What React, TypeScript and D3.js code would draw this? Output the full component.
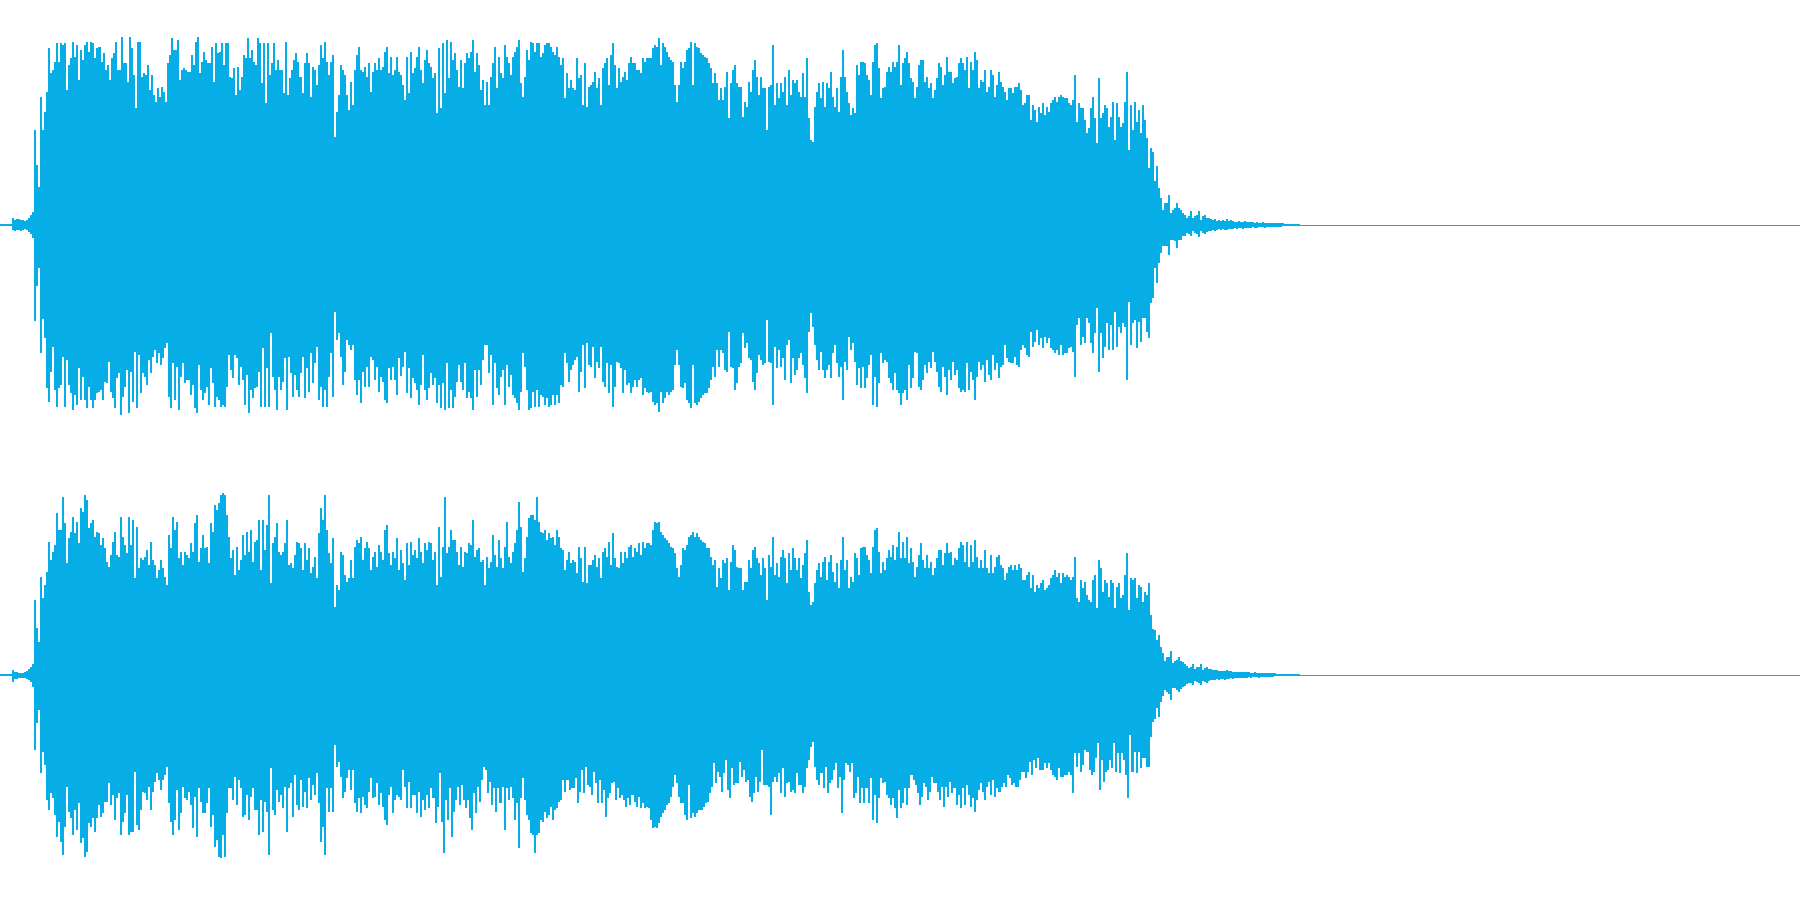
import React from "react";
import * as d3 from "d3";

const WIDTH = 1800;
const HEIGHT = 900;
const WAVE_COLOR = "#07aee6";

// Peak amplitudes, one value per two samples of the time axis.
const topUpEarly = [1,1,1,1,1,1,7,5,6,6,5,5,4,5,7,10,13,95,60,38,128,95,113,133,
177,152,155,163,182,163,182,180,182,135,160,167,183,168,180,145,175,165,180,183,173,183,182,167,177,178,163,172,155,160,145,167,172,183,155,155,188,162,162,143,188,177,150,117,183,183,148,152,150,160,135,150,130,123,137,128,138,133,123,162,170,187,175,175,185,145,155,157,155,153,153,170,160,183,188,152,163,173,165,162,162,178,143,182,172,173,182,160,182,182,148,147,157,130,158,135,148,170,167,187,167,175,163,160,187,182,142,182,122,182,150,162,182,155,165,155,155,132,183,130,147,155,165,172,163,148,132,162,172,162,128,158,155,140,160,180,167,183,163,150,163,170,88,113,130,160,155,150,130,115,143,120,155,170,178,155,153,158,148,162,133,153,162,155,167,155,158,173,178,152,168,150,155,168,153];
const topUpMiddle = [150,140,125,168,132,173,152,157,168,178,155,142,165,175,162,158,147,152,112,177,117,182,132,185,147,183,165,172,155,138,165,137,162,172,167,173,185,153,172,160,135,145,120,143,120,148,162,178,137,168,152,147,180,168,162,150,168,173,178,185,142,128,148,175,165,183,182,173,182,182,168,172,180,182,182,178,173,170,178,168,160,167,127,152,137,145,137,135,167,147,150,120,162,118,138,140,143,153,137,147,120,157,162,167,140,170,182,160,137,157,143,148,153,145,162,168,162,162,155,155,152,167,163,167,167,167,177,180,178,187,160,182,178,173,168,165,163,140,123,140,163,157,163,175,177,183,140,182,178,177,172,170,168,167,162,157,142,152,142,125,137,125,138,153,107,142,155,160,142,138,138,108,123,118,143,133,155,165,148,130,148,137,137,95,138,140,180,120,142,127,142,133,148,120,155,130,145,142,145,133];
const topUpLate = [128,152,128,167,107,85,83,118,133,142,127,143,118,142,137,153,128,118,137,113,148,175,148,133,122,110,117,112,160,150,163,163,162,150,145,130,163,180,182,157,127,137,138,153,158,153,163,158,163,180,140,162,167,173,162,147,143,127,138,160,165,165,143,148,137,142,127,135,147,162,158,140,150,168,153,153,142,147,148,162,167,162,155,168,137,163,155,173,165,137,145,143,155,133,138,155,150,128,140,153,143,138,133,125,137,137,132,138,138,142,135,120,122,130,130,105,120,115,103,118,112,122,110,118,113,122,125,128,123,128,130,128,127,127,122,120,125,150,103,122,117,117,105,92,97,117,128,107,82,147,107,112,120,117,98,108,123,85,122,108,98,102,123,153,75,120,95,123,103,115,92,120,105,87,57,77,73];
const topUpTail = [44,59,37,27,15,22,22,30,12,15,17,22,17,15,12,10,7,9,14,7,9,10,14,5,9,10,7,7,6,5,6,4,5,4,5,4,6,4,5,4,3,3,4,3,3,4,3,3,3,3,2,3,2,2,3,2,2,2,2,2,2,2,2,2,2,1,1,1,1,1,1,1,1];

const topDownEarly = [1,1,1,1,1,1,5,6,5,5,6,5,4,5,7,9,13,96,61,43,128,94,113,163,
177,147,122,165,182,163,160,132,182,135,160,168,185,170,180,143,175,152,175,183,162,175,183,175,168,167,165,175,157,158,137,167,173,183,153,148,190,172,162,145,188,147,177,127,183,130,168,148,152,160,135,148,132,125,138,128,140,133,123,118,172,183,138,175,142,185,152,138,158,155,155,170,160,183,188,140,165,175,168,162,180,143,158,182,172,175,182,180,182,162,130,145,153,130,133,160,142,155,180,150,188,165,173,163,162,147,182,123,182,143,182,108,152,165,185,152,165,157,133,185,132,148,172,150,165,172,148,132,173,143,167,128,158,138,122,175,162,182,165,182,152,128,172,87,115,108,132,160,147,115,120,125,120,155,170,155,178,147,162,142,162,132,135,155,142,167,152,157,175,178,143,155,142,155,170,133];
const topDownMiddle = [151,142,127,168,143,173,153,158,165,180,160,130,165,175,163,148,160,153,178,160,183,158,185,138,183,165,183,172,157,140,157,165,138,173,167,173,185,145,172,145,160,135,120,120,148,130,180,138,163,170,152,145,180,140,162,150,170,173,178,185,167,128,142,165,185,183,167,182,165,182,170,172,180,173,182,180,170,180,170,178,160,162,128,138,157,145,140,135,132,167,147,120,163,118,140,142,122,153,137,143,122,157,162,138,168,140,182,162,137,138,143,168,145,160,158,168,162,155,162,155,153,170,163,167,168,167,177,180,178,187,167,178,173,167,170,167,165,140,125,140,162,163,158,175,178,183,140,178,180,177,173,170,168,168,163,155,142,152,125,142,125,128,145,147,107,142,143,165,158,142,138,108,123,118,133,135,157,165,148,130,135,140,138,95,137,138,180,122,143,125,142,133,155,120,115,158,133,150,145,133];
const topDownLate = [128,140,153,168,107,88,102,120,135,145,127,145,153,145,140,153,128,120,138,152,142,175,137,145,112,125,118,137,160,143,163,142,163,153,140,130,180,152,182,158,128,138,135,137,153,158,165,148,165,168,180,168,165,175,140,163,153,127,128,162,165,155,140,148,137,143,127,137,147,162,167,142,152,170,145,155,137,150,145,163,167,165,167,138,165,147,155,175,152,137,145,140,157,135,150,155,130,145,138,153,142,140,120,133,137,138,138,132,140,142,125,120,123,130,132,107,122,117,105,120,113,123,112,118,113,123,125,128,125,130,120,130,128,128,123,122,127,152,100,93,120,112,118,93,98,118,128,108,83,147,108,133,122,98,125,100,125,87,122,102,108,98,102,155,77,120,98,95,123,97,117,93,93,107,113,78,73];
const topDownTail = [43,58,38,28,21,21,21,30,15,15,16,23,15,15,11,11,8,9,11,6,8,9,12,6,8,9,7,6,6,5,6,5,4,5,4,5,5,4,4,4,3,4,3,3,4,3,3,3,3,2,3,3,2,2,2,3,2,2,2,2,2,2,2,2,1,1,1,1,1,1,1,1,1];

const bottomUpEarly = [1,1,1,1,1,1,5,3,3,2,2,2,3,4,6,8,11,75,47,33,98,77,90,103,
133,115,123,130,162,145,145,178,152,112,137,143,158,142,153,132,167,163,180,175,147,152,155,138,143,142,130,137,127,113,108,120,133,143,120,118,158,138,130,122,158,130,155,97,148,107,117,115,118,125,110,133,115,110,97,105,115,107,98,90,140,127,158,145,153,117,123,110,123,120,117,132,123,152,160,113,127,140,127,128,112,152,143,170,165,172,180,182,180,160,138,117,125,100,128,105,115,140,120,143,123,145,113,133,135,155,105,155,125,150,180,92,132,138,152,123,120,123,132,155,110,112,107,120,133,132,127,105,132,115,127,102,108,118,97,142,167,155,180,145,122,112,137,68,90,85,123,120,100,93,97,115,97,128,135,132,138,115,127,133,127,105,118,123,108,130,123,115,145,150,122,110,123,117,137,105];
const bottomUpMiddle = [125,112,95,132,110,133,120,125,117,137,123,112,132,125,133,132,115,123,90,148,98,128,178,122,128,145,135,135,123,110,128,108,123,122,132,130,155,118,125,127,113,115,90,118,107,113,140,120,108,135,117,107,128,153,118,112,123,132,145,173,148,103,117,138,157,160,160,155,178,153,143,142,145,135,142,137,138,130,145,138,127,125,105,115,123,112,115,113,102,128,117,93,128,92,110,110,115,120,108,117,97,123,127,118,133,110,142,117,108,107,123,112,123,117,128,130,118,127,123,132,120,133,127,132,132,130,145,153,152,153,143,140,137,135,132,128,127,122,107,98,110,127,125,130,138,140,143,138,142,138,135,133,132,127,127,118,110,115,88,107,97,115,112,117,85,113,130,125,108,107,107,85,93,93,115,107,125,128,117,112,100,117,107,75,120,108,138,100,112,98,118,125,117,92,122,105,127,117,105,117];
const bottomUpLate = [97,110,122,135,83,70,73,92,105,112,98,113,118,95,113,120,103,93,112,87,115,138,105,115,87,98,93,122,117,100,127,128,128,120,115,102,128,145,147,123,102,113,105,117,125,118,130,115,128,143,117,133,117,138,112,127,113,98,108,120,132,115,107,120,107,113,100,107,117,125,125,110,122,132,122,123,110,117,115,127,133,130,113,133,108,130,113,135,118,107,115,107,125,107,102,120,102,108,118,120,110,107,95,102,108,110,105,110,105,111,107,95,95,100,103,87,100,83,90,87,92,95,85,87,90,97,100,105,98,102,92,102,98,100,98,95,98,118,77,73,95,87,93,80,75,73,95,100,67,115,107,83,95,92,78,95,92,67,88,92,77,80,100,122,65,97,95,97,77,90,88,73,83,80,92,60,46];
const bottomUpTail = [45,35,40,28,22,14,18,18,24,12,14,15,18,14,13,11,9,7,8,11,6,8,8,11,5,7,8,6,6,5,5,5,4,4,4,4,5,4,4,3,3,3,3,3,3,3,3,3,2,2,3,2,2,2,2,2,2,2,2,2,2,1,1,1,1,1,1,1,1,1,1,1,1];

const bottomDownEarly = [1,1,1,1,1,1,7,4,4,3,3,3,3,4,5,7,12,75,48,35,98,77,90,125,
135,118,123,140,162,147,167,180,152,112,137,143,160,135,155,128,168,163,182,177,148,152,143,157,143,130,142,138,127,127,108,130,120,145,123,118,160,147,138,120,160,157,157,97,150,155,135,117,118,125,112,135,117,107,98,105,115,105,100,92,128,147,160,145,115,155,138,112,123,125,117,130,153,122,162,113,127,138,138,128,113,152,140,172,165,182,183,160,182,138,113,113,125,102,130,105,113,142,140,120,145,122,113,135,135,160,125,157,127,137,180,93,135,140,115,127,120,133,112,157,113,108,142,100,130,135,105,132,117,133,103,125,110,120,98,128,167,152,180,113,137,113,137,70,92,87,102,123,117,103,95,115,95,128,137,123,138,122,130,133,117,103,123,122,108,130,118,132,145,150,120,112,138,125,120,122];
const bottomDownMiddle = [125,95,112,133,107,133,120,120,138,117,142,125,135,120,133,113,123,148,132,98,147,178,125,145,113,162,137,125,112,130,110,125,133,125,143,155,118,138,112,127,105,92,95,118,107,130,113,137,113,128,112,155,113,125,112,123,145,128,173,123,103,125,140,145,158,160,178,160,158,145,147,137,143,140,132,145,135,133,127,125,105,117,105,115,113,113,103,128,117,95,118,92,110,112,120,97,108,128,105,128,115,142,123,118,108,107,125,113,123,120,125,132,123,130,120,127,132,122,133,128,133,132,133,145,153,152,153,148,142,138,135,130,128,122,112,100,108,122,128,128,140,145,110,143,138,142,138,135,135,132,128,127,118,112,88,108,97,102,117,98,85,115,123,93,110,108,108,87,102,95,107,105,122,127,118,102,117,107,75,110,110,112,140,107,102,107,98,118,93,122,108,107,117,115,118,98,110];
const bottomDownLate = [110,118,112,93,85,72,67,92,105,110,98,113,92,118,108,105,95,88,113,102,138,105,88,90,97,88,123,118,102,128,113,128,113,128,103,145,120,148,123,103,108,107,120,123,130,123,133,143,115,133,128,113,130,113,100,105,110,118,130,122,108,112,125,117,102,108,108,117,125,112,132,112,122,107,118,113,130,120,133,113,130,110,120,132,123,137,125,115,108,117,125,112,107,120,105,122,113,117,112,108,112,100,103,110,108,112,112,105,97,97,103,97,87,100,85,93,83,95,95,88,93,88,95,100,102,105,93,102,102,100,100,97,100,118,78,92,78,97,90,75,77,95,100,97,83,68,115,85,107,97,95,85,93,68,97,78,98,78,85,100,123,60,97,77,98,77,93,83,83,92,92,62,47];
const bottomDownTail = [44,33,42,27,21,15,17,19,25,13,13,15,17,14,12,11,9,8,8,10,6,7,8,10,6,7,8,6,5,5,5,4,5,4,4,5,4,4,3,4,3,3,3,3,3,3,3,2,3,2,2,2,3,2,2,2,2,2,2,2,1,1,1,1,1,1,1,1,1,1,1,1,1];

const sectionEdges = [0, 400, 800, 1154, 1300];

const timeScale = d3.scaleLinear().domain([0, WIDTH]).range([0, WIDTH]);
const topChannel = d3.scaleLinear().domain([-225, 225]).range([HEIGHT / 2, 0]);
const bottomChannel = d3.scaleLinear().domain([-225, 225]).range([HEIGHT, HEIGHT / 2]);

function wavePath(sections: number[][], ampY: (v: number) => number, sign: number, center: number) {
  const pts: { x: number; v: number }[] = [];
  sections.forEach((values, k) => {
    const s = d3
      .scaleLinear()
      .domain([0, values.length])
      .range([timeScale(sectionEdges[k]), timeScale(sectionEdges[k + 1])]);
    values.forEach((v, i) => pts.push({ x: Math.round(s(i)), v }));
  });
  pts.push({ x: sectionEdges[sectionEdges.length - 1], v: 0 });
  const area = d3
    .area<{ x: number; v: number }>()
    .x((d) => d.x)
    .y0(center)
    .y1((d) => Math.round(ampY(sign * d.v)))
    .curve(d3.curveStepAfter);
  return area(pts) ?? "";
}

const channels = [
  {
    y: topChannel,
    up: [topUpEarly, topUpMiddle, topUpLate, topUpTail],
    down: [topDownEarly, topDownMiddle, topDownLate, topDownTail],
  },
  {
    y: bottomChannel,
    up: [bottomUpEarly, bottomUpMiddle, bottomUpLate, bottomUpTail],
    down: [bottomDownEarly, bottomDownMiddle, bottomDownLate, bottomDownTail],
  },
];

export default function App() {
  return (
    <svg
      width={WIDTH}
      height={HEIGHT}
      viewBox={`0 0 ${WIDTH} ${HEIGHT}`}
      style={{ position: "fixed", left: 0, top: 0, background: "#ffffff", display: "block" }}
      shapeRendering="crispEdges"
    >
      {channels.map((c, idx) => {
        const center = c.y(0);
        return (
          <g key={idx} fill={WAVE_COLOR}>
            <path d={wavePath(c.up, c.y, 1, center + 1)} />
            <path d={wavePath(c.down, c.y, -1, center)} />
            <rect x={timeScale(0)} y={center} width={timeScale(WIDTH)} height={1} />
          </g>
        );
      })}
    </svg>
  );
}
